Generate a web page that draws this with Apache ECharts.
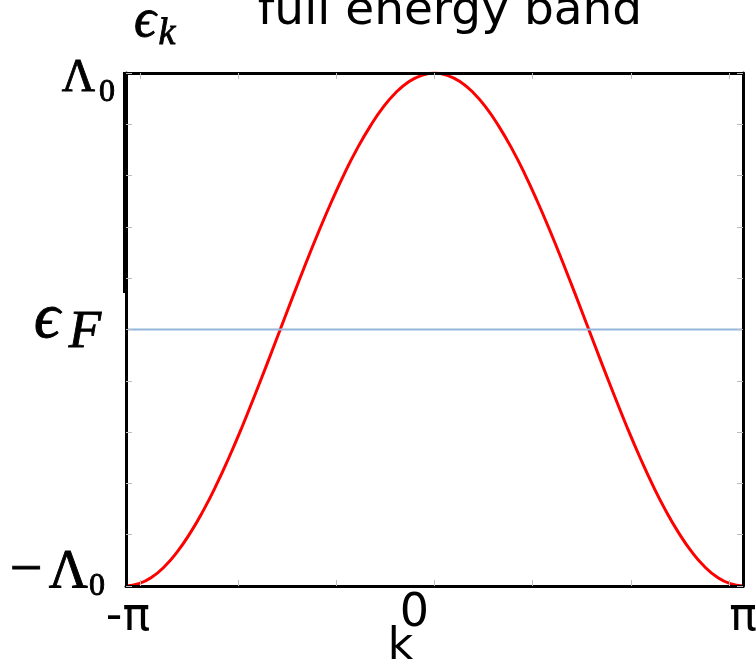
<!DOCTYPE html>
<html>
<head>
<meta charset="utf-8">
<script src="https://cdn.jsdelivr.net/npm/echarts@6/dist/echarts.min.js"></script>
<style>
  html, body { margin: 0; padding: 0; background: #ffffff; }
  #main { width: 756px; height: 669px; }
</style>
</head>
<body>
<div id="main"></div>
<script>
// Tight-binding band: wave number k (rad) and band energy ε_k in units of Λ0
const kValues = [-3.142, -3.011, -2.880, -2.749, -2.618, -2.487, -2.356, -2.225, -2.094, -1.963, -1.833, -1.702,
                 -1.571, -1.440, -1.309, -1.178, -1.047, -0.916, -0.785, -0.654, -0.524, -0.393, -0.262, -0.131,
                 0.000, 0.131, 0.262, 0.393, 0.524, 0.654, 0.785, 0.916, 1.047, 1.178, 1.309, 1.440,
                 1.571, 1.702, 1.833, 1.963, 2.094, 2.225, 2.356, 2.487, 2.618, 2.749, 2.880, 3.011, 3.142];
const energyValues = [-1.000, -0.991, -0.966, -0.924, -0.866, -0.793, -0.707, -0.609, -0.500, -0.383, -0.259, -0.131,
                      0.000, 0.131, 0.259, 0.383, 0.500, 0.609, 0.707, 0.793, 0.866, 0.924, 0.966, 0.991,
                      1.000, 0.991, 0.966, 0.924, 0.866, 0.793, 0.707, 0.609, 0.500, 0.383, 0.259, 0.131,
                      0.000, -0.131, -0.259, -0.383, -0.500, -0.609, -0.707, -0.793, -0.866, -0.924, -0.966, -0.991, -1.000];

// Fermi level and the k-range of its marker line
const fermiLevel = 0;
const fermiSpan = [-3.12, 3.20];

// Axis ticks and labels
const kTickValues = [-3, -2, -1, 0, 1, 2, 3];
const kLabelValues = [-Math.PI, 0, Math.PI];
const kLabelTexts = ['-π', '0', 'π'];
const kAxisName = 'k';
const energyLabelValues = [1, 0, -1];
const titleText = 'full energy band';

const chart = echarts.init(document.getElementById('main'), null, { renderer: 'canvas' });

const tickStyle = { color: '#bdbdbd', width: 1 };
const frameLine = { show: true, onZero: false, lineStyle: { color: '#000000', width: 3 } };

function kAxis(position) {
  return {
    type: 'value', position: position, min: -Math.PI, max: Math.PI,
    axisLine: frameLine,
    axisTick: { show: true, inside: true, length: 6, customValues: kTickValues, lineStyle: tickStyle },
    axisLabel: { show: false }, splitLine: { show: false }, z: 3
  };
}
function eAxis(position) {
  return {
    type: 'value', position: position, min: -1, max: 1, interval: 0.2,
    axisLine: frameLine,
    axisTick: { show: true, inside: true, length: 6, lineStyle: tickStyle },
    axisLabel: { show: false }, splitLine: { show: false }, z: 3
  };
}

chart.setOption({
  animation: false,
  backgroundColor: '#ffffff',
  grid: { left: 126, top: 73, right: 13, bottom: 83, containLabel: false },
  xAxis: [kAxis('bottom'), kAxis('top')],
  yAxis: [eAxis('left'), eAxis('right')],
  series: [
    {
      name: 'band', type: 'line', xAxisIndex: 0, yAxisIndex: 0,
      data: kValues.map((k, i) => [k, energyValues[i]]),
      smooth: true, showSymbol: false, silent: true,
      lineStyle: { color: '#ff0000', width: 3 }, z: 2
    },
    {
      name: 'fermi', type: 'line', xAxisIndex: 0, yAxisIndex: 0,
      data: fermiSpan.map(k => [k, fermiLevel]),
      showSymbol: false, silent: true, clip: false,
      lineStyle: { color: '#93b6da', width: 2 }, z: 2
    }
  ]
});

// Labels placed from the axis scales
const px = v => chart.convertToPixel({ xAxisIndex: 0 }, v);
const py = v => chart.convertToPixel({ yAxisIndex: 0 }, v);

const sans = '"DejaVu Sans", Verdana, sans-serif';
const serif = '"Liberation Serif", "DejaVu Serif", serif';

function txt(text, x, y, size, family, extra) {
  return {
    type: 'text', x: x, y: y, silent: true, z: 10,
    style: Object.assign({
      text: text, fontSize: size, fontFamily: family, fill: '#000000',
      align: 'center', verticalAlign: 'middle'
    }, (extra || {}))
  };
}
// math glyphs get a slightly heavier stroke
function mathTxt(text, x, y, size, extra) {
  return txt(text, x, y, size, serif, Object.assign({ stroke: '#000000', lineWidth: 0.9 }, (extra || {})));
}

const xLeft = px(-Math.PI);
const yTop = py(1);

const graphics = [];
// title (partly above the canvas edge)
graphics.push(txt(titleText, 450, 12, 47, sans));
// vertical axis caption ε_k
graphics.push(mathTxt('ϵ', 145, 22, 54, { fontStyle: 'italic' }));
graphics.push(mathTxt('k', 167, 34, 38, { fontStyle: 'italic' }));

// energy tick labels
const eLabelY = energyLabelValues.map(py);
// Λ0
graphics.push(mathTxt('Λ', xLeft - 31, eLabelY[0] + 6, 46, { align: 'right' }));
graphics.push(mathTxt('0', xLeft - 19, eLabelY[0] + 20, 32));
// ε_F
graphics.push(mathTxt('ϵ', xLeft - 79, eLabelY[1] - 9, 64, { fontStyle: 'italic' }));
graphics.push(mathTxt('F', xLeft - 41, eLabelY[1] + 4, 53, { fontStyle: 'italic' }));
// −Λ0
graphics.push(mathTxt('−', xLeft - 100, eLabelY[2] - 14, 58));
graphics.push(mathTxt('Λ', xLeft - 38, eLabelY[2] - 13, 54, { align: 'right' }));
graphics.push(mathTxt('0', xLeft - 29, eLabelY[2] + 1, 32));

// k tick labels and axis name
const kOffsets = [2, -20, 0];
kLabelValues.forEach((v, i) => {
  graphics.push(txt(kLabelTexts[i], px(v) + kOffsets[i], i === 1 ? 614 : 618, 46, sans));
});
graphics.push(txt(kAxisName, px(0) - 34, 648, 44, sans));

// heavier upper stretch of the left frame
graphics.push({
  type: 'line', silent: true, z: 10,
  shape: { x1: xLeft - 2, y1: yTop - 1, x2: xLeft - 2, y2: 293 },
  style: { stroke: '#000000', lineWidth: 2 }
});

chart.setOption({ graphic: graphics });
</script>
</body>
</html>
